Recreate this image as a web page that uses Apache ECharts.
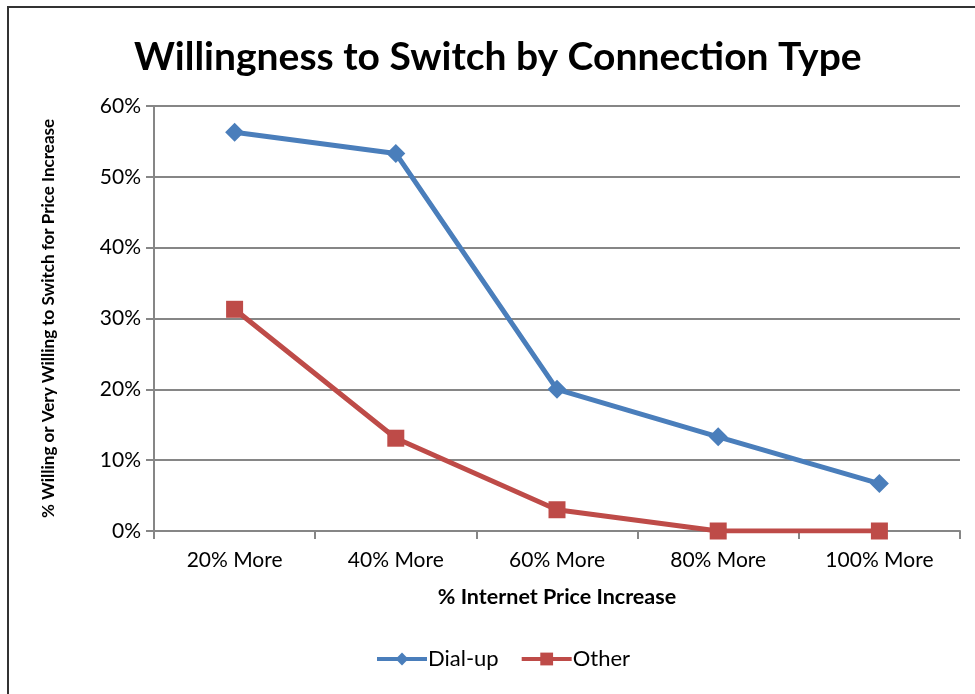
<!DOCTYPE html>
<html><head><meta charset="utf-8">
<script src="https://cdn.jsdelivr.net/npm/echarts@6/dist/echarts.min.js"></script>
<style>html,body{margin:0;padding:0;background:#fff}#c{width:975px;height:694px}</style>
</head><body><div id="c"></div>
<script>
const categories = ['20% More', '40% More', '60% More', '80% More', '100% More'];
const dialUp = [56.3, 53.3, 20.0, 13.3, 6.7];
const other = [31.3, 13.1, 3.0, 0, 0];
const yTicks = [0, 10, 20, 30, 40, 50, 60];

const font = 'Lato, "Open Sans", sans-serif';
const chart = echarts.init(document.getElementById('c'), null, {renderer: 'canvas'});
chart.setOption({
  backgroundColor: '#fff',
  animation: false,
  textStyle: {fontFamily: font},
  title: {
    text: 'Willingness to Switch by Connection Type',
    left: 129, top: 33,
    textStyle: {fontFamily: font, fontSize: 39, fontWeight: 'bold', color: '#000'}
  },
  graphic: [
    {type: 'line', shape: {x1: 7, y1: 7, x2: 975, y2: 7}, style: {stroke: '#333', lineWidth: 2}},
    {type: 'line', shape: {x1: 8, y1: 6, x2: 8, y2: 694}, style: {stroke: '#333', lineWidth: 2}}
  ],
  legend: {
    bottom: 19, left: 370,
    itemWidth: 50, itemHeight: 16, itemGap: 21,
    lineStyle: {width: 4},
    textStyle: {fontFamily: font, fontSize: 22, color: '#000', padding: [0,0,0,-4]},
    data: ['Dial-up', 'Other']
  },
  grid: {left: 154, right: 15, top: 106, bottom: 163, containLabel: false},
  xAxis: {
    type: 'category', data: categories, boundaryGap: true,
    name: '% Internet Price Increase', nameLocation: 'middle', nameGap: 55,
    nameTextStyle: {fontFamily: font, fontSize: 21.5, fontWeight: 'bold', color: '#000'},
    axisLine: {lineStyle: {color: '#868686', width: 2}},
    axisTick: {show: true, length: 8, interval: 0, lineStyle: {color: '#868686', width: 2}},
    axisLabel: {fontFamily: font, fontSize: 21, color: '#000', margin: 19, interval: 0},
    splitLine: {show: false}
  },
  yAxis: {
    type: 'value', min: yTicks[0], max: yTicks[yTicks.length-1], interval: 10,
    name: '% Willing or Very Willing to Switch for Price Increase', nameLocation: 'middle', nameGap: 97,
    nameTextStyle: {fontFamily: font, fontSize: 17, fontWeight: 'bold', color: '#000'},
    axisLine: {show: true, lineStyle: {color: '#868686', width: 2}},
    axisTick: {show: true, length: 8, lineStyle: {color: '#868686', width: 2}},
    axisLabel: {fontFamily: font, fontSize: 21, color: '#000', margin: 13, formatter: '{value}%'},
    splitLine: {show: true, lineStyle: {color: '#868686', width: 2}}
  },
  series: [
    {name: 'Dial-up', type: 'line', data: dialUp, symbol: 'diamond', symbolSize: 19,
     itemStyle: {color: '#4A7EBB'}, lineStyle: {color: '#4A7EBB', width: 5}},
    {name: 'Other', type: 'line', data: other, symbol: 'rect', symbolSize: 17,
     itemStyle: {color: '#BE4B48'}, lineStyle: {color: '#BE4B48', width: 5}}
  ]
});
</script></body></html>
